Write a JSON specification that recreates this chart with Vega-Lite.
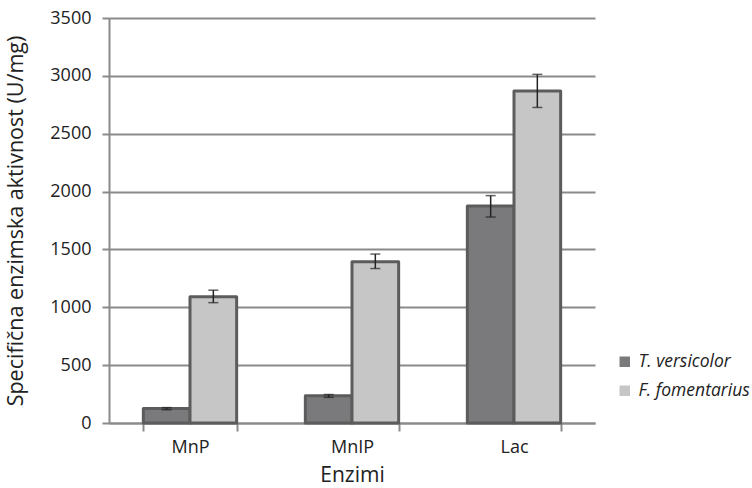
{
  "$schema": "https://vega.github.io/schema/vega-lite/v6.json",
  "autosize": {"type": "none"},
  "width": 486,
  "height": 405,
  "padding": {"left": 109, "top": 18, "right": 157, "bottom": 65},
  "background": "white",
  "config": {
    "view": {"stroke": null},
    "font": "Open Sans",
    "axis": {"labelFont": "Open Sans", "titleFont": "Open Sans", "labelColor": "#222", "titleColor": "#222", "labelFontSize": 18, "titleFontSize": 21, "titleFontWeight": "normal", "domainColor": "#8a8a8a", "domainWidth": 2, "tickColor": "#8a8a8a", "tickWidth": 2, "gridColor": "#8a8a8a", "gridWidth": 1.8}
  },
  "data": {
    "values": [
      {"enzim": "MnP", "vrsta": "T. versicolor", "value": 125, "lo": 115, "hi": 133},
      {"enzim": "MnP", "vrsta": "F. fomentarius", "value": 1090, "lo": 1040, "hi": 1148},
      {"enzim": "MnIP", "vrsta": "T. versicolor", "value": 235, "lo": 222, "hi": 246},
      {"enzim": "MnIP", "vrsta": "F. fomentarius", "value": 1393, "lo": 1335, "hi": 1460},
      {"enzim": "Lac", "vrsta": "T. versicolor", "value": 1875, "lo": 1780, "hi": 1965},
      {"enzim": "Lac", "vrsta": "F. fomentarius", "value": 2870, "lo": 2727, "hi": 3013}
    ]
  },
  "encoding": {
    "x": {
      "field": "enzim", "type": "nominal", "sort": ["MnP", "MnIP", "Lac"],
      "scale": {"paddingInner": 0.424, "paddingOuter": 0.212},
      "axis": {"title": "Enzimi", "labelAngle": 0, "labelPadding": 7, "titlePadding": 8, "tickBand": "extent", "tickSize": 8, "grid": false}
    },
    "xOffset": {"field": "vrsta", "type": "nominal", "sort": ["T. versicolor", "F. fomentarius"]}
  },
  "layer": [
    {
      "mark": {"type": "bar", "stroke": "#5c5c5c", "strokeWidth": 3, "strokeJoin": "round"},
      "encoding": {
        "y": {
          "field": "value", "type": "quantitative",
          "scale": {"domain": [0, 3500], "nice": false},
          "axis": {"title": "Specifična enzimska aktivnost (U/mg)", "titleFontSize": 21.5, "format": "d", "values": [0, 500, 1000, 1500, 2000, 2500, 3000, 3500], "tickSize": 7, "labelPadding": 11, "titlePadding": 22, "grid": true}
        },
        "color": {
          "field": "vrsta", "type": "nominal", "sort": ["T. versicolor", "F. fomentarius"],
          "scale": {"domain": ["T. versicolor", "F. fomentarius"], "range": ["#7a7a7c", "#c6c6c6"]},
          "legend": {"title": null, "orient": "none", "legendX": 507, "legendY": 335, "symbolType": "square", "symbolSize": 110, "symbolStrokeWidth": 0, "labelFont": "Open Sans", "labelFontSize": 17.5, "labelFontStyle": "italic", "labelColor": "#222", "rowPadding": 10, "labelOffset": 5}
        }
      }
    },
    {
      "mark": {"type": "rule", "color": "#222", "strokeWidth": 1.5},
      "encoding": {"y": {"field": "lo", "type": "quantitative"}, "y2": {"field": "hi"}}
    },
    {
      "mark": {"type": "tick", "color": "#222", "thickness": 1.5, "size": 10},
      "encoding": {"y": {"field": "lo", "type": "quantitative"}}
    },
    {
      "mark": {"type": "tick", "color": "#222", "thickness": 1.5, "size": 10},
      "encoding": {"y": {"field": "hi", "type": "quantitative"}}
    }
  ]
}
